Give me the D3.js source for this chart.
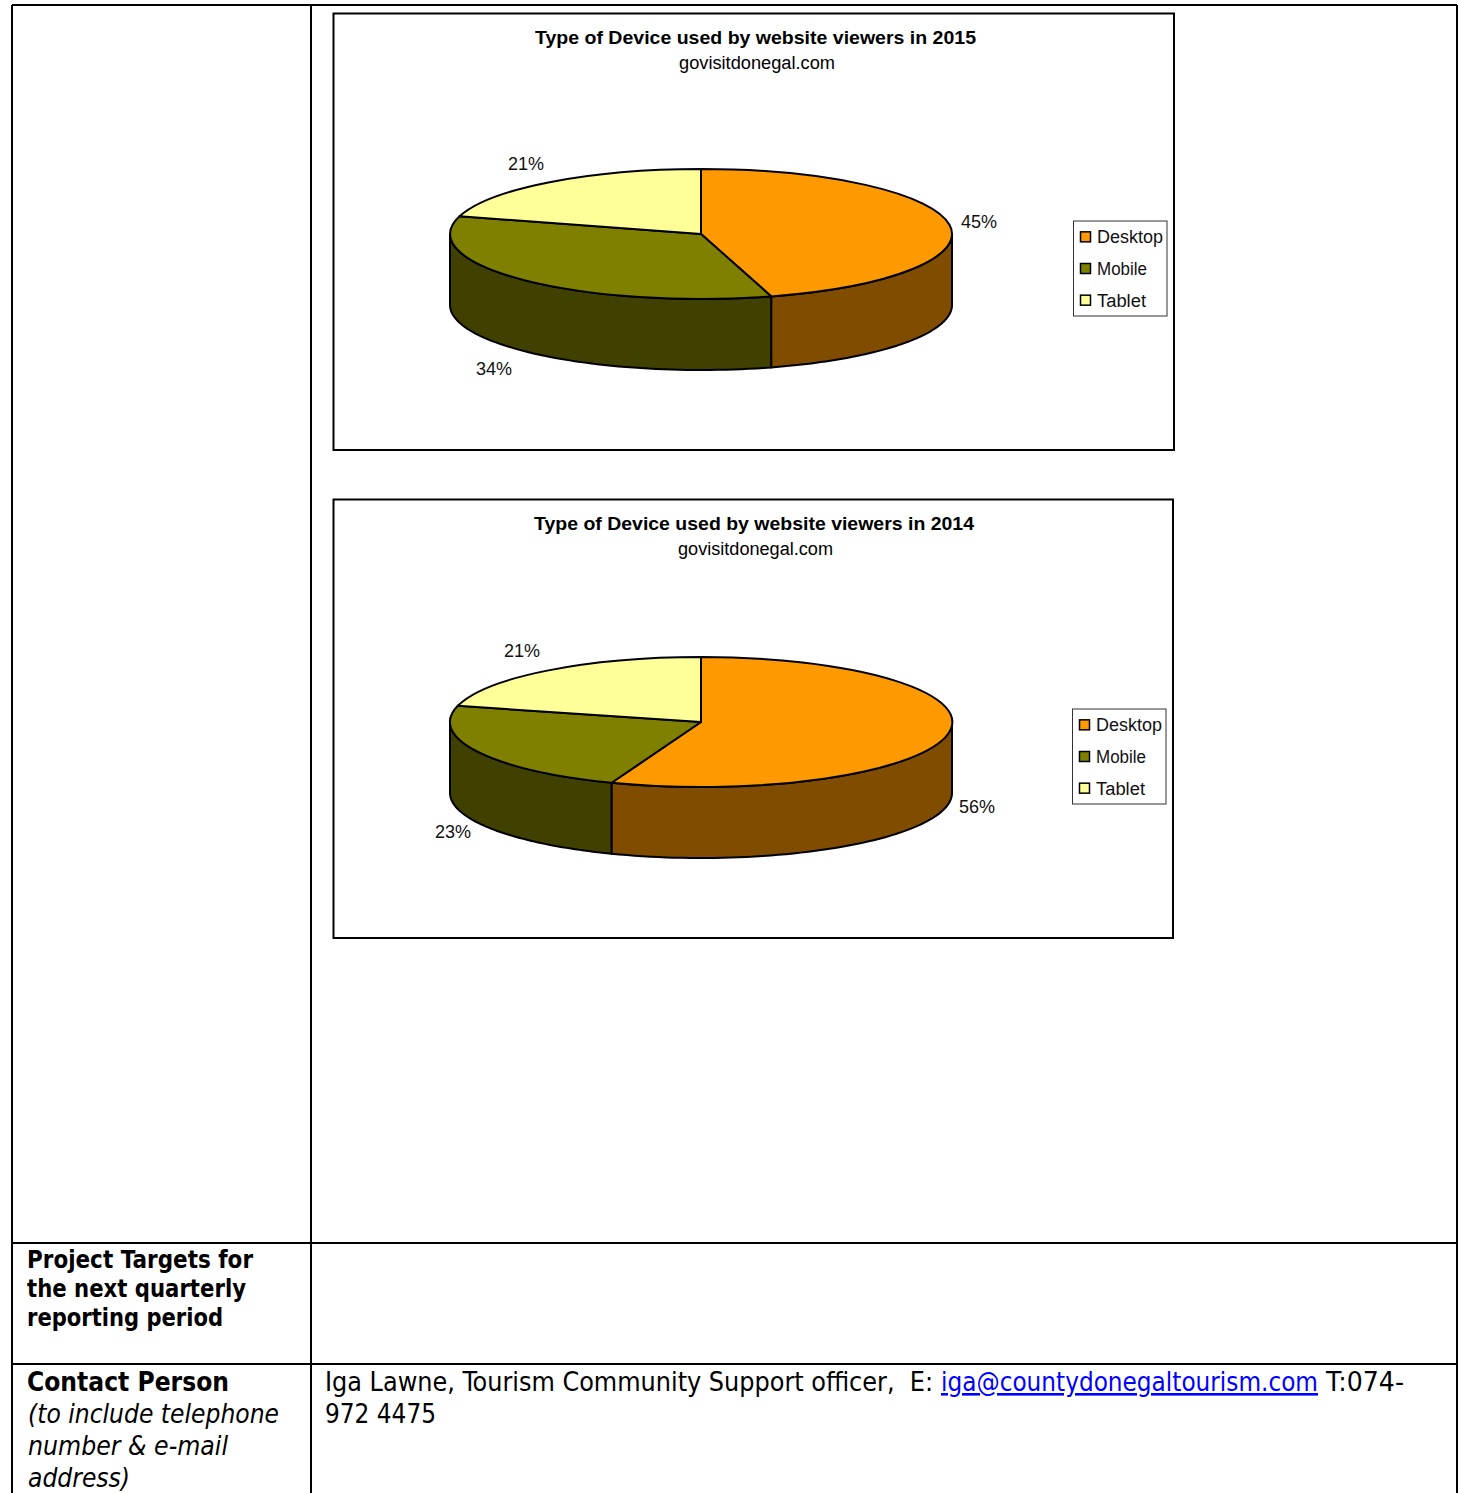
<!DOCTYPE html>
<html><head><meta charset="utf-8">
<script src="https://cdn.jsdelivr.net/npm/d3@7"></script>
<style>html,body{margin:0;padding:0;background:#fff;overflow:hidden}svg{display:block}</style>
</head><body><div id="c"></div>
<script>
const categories = ["Desktop","Mobile","Tablet"];
const values2015 = [45.49,33.9,20.61];
const values2014 = [55.8,23.2,21.0];
const titles = ["Type of Device used by website viewers in 2015","Type of Device used by website viewers in 2014"];
const subtitle = "govisitdonegal.com";
const topColors = ["#FF9900","#808000","#FFFF99"];
const sideColors = ["#804D00","#404000","#808050"];

const layouts = [
 {values:values2015,title:titles[0],frame:[333.5,13.5,840.5,436.5],cx:701,cy:234,
  titleX:[535,441],titleY:44,subX:[679,156],subY:69,
  labels:[[961,228],[476,375],[508,170]],legend:[1073.5,221,93.5,95]},
 {values:values2014,title:titles[1],frame:[333.5,499.5,839.5,438.5],cx:701,cy:722,
  titleX:[534,440],titleY:530,subX:[678,155],subY:555,
  labels:[[959,813],[435,838],[504,657]],legend:[1072.5,709,93.5,95]}
];
const legendTextWidths=[66,50,49];
const rx=251, ry=65, depth=71;
const W=1458,H=1493;
const svg=d3.select("#c").append("svg").attr("width",W).attr("height",H).attr("viewBox",`0 0 ${W} ${H}`);
const CF='"Liberation Sans",Arial,sans-serif', TF='"DejaVu Sans",sans-serif', TC='"DejaVu Sans Condensed","DejaVu Sans",sans-serif';

// table rules
const rules=[[12,5,1457,5],[12,1243,1457,1243],[12,1364,1457,1364],[12,5,12,1493],[311,5,311,1493],[1457,5,1457,1493]];
svg.append("g").selectAll("line").data(rules).join("line")
 .attr("x1",d=>d[0]).attr("y1",d=>d[1]).attr("x2",d=>d[2]).attr("y2",d=>d[3])
 .attr("stroke","#000").attr("stroke-width",2);

function fitted(g,str,x,w,y,size,font,opts={}){
 return g.append("text").attr("x",x).attr("y",y).attr("textLength",w).attr("lengthAdjust","spacingAndGlyphs")
  .attr("font-family",font).attr("font-size",size).attr("font-weight",opts.bold?"bold":"normal")
  .attr("font-style",opts.italic?"italic":"normal").attr("fill",opts.fill||"#000")
  .attr("text-decoration",opts.underline?"underline":null)
  .style("font-stretch",opts.condensed?"condensed":null)
  .style("white-space","pre").text(str);
}

layouts.forEach(L=>{
 const g=svg.append("g");
 g.append("rect").attr("x",L.frame[0]).attr("y",L.frame[1]).attr("width",L.frame[2]).attr("height",L.frame[3])
  .attr("fill","#fff").attr("stroke","#000").attr("stroke-width",2);
 fitted(g,L.title,L.titleX[0],L.titleX[1],L.titleY,18,CF,{bold:true});
 fitted(g,subtitle,L.subX[0],L.subX[1],L.subY,18,CF);

 const arcs=d3.pie().sort(null)(L.values);
 const X=d3.scaleLinear().domain([-1,1]).range([L.cx-rx,L.cx+rx]);
 const Y=d3.scaleLinear().domain([-1,1]).range([L.cy-ry,L.cy+ry]);
 const px=a=>X(Math.sin(a)), py=a=>Y(-Math.cos(a));
 const lo=Math.PI/2, hi=3*Math.PI/2;
 const line=d3.line();
 arcs.forEach((a,i)=>{
  const s=Math.max(a.startAngle,lo), e=Math.min(a.endAngle,hi);
  if(e<=s) return;
  const n=60, ang=d3.range(n+1).map(k=>s+(e-s)*k/n);
  const pts=ang.map(t=>[px(t),py(t)]).concat(ang.slice().reverse().map(t=>[px(t),py(t)+depth]));
  g.append("path").attr("d",line(pts)+"Z").attr("fill",sideColors[i]).attr("stroke","#000")
   .attr("stroke-width",2).attr("stroke-linejoin","round");
 });
 const arc=d3.arc().innerRadius(0).outerRadius(1);
 const top=g.append("g").attr("transform",`translate(${L.cx},${L.cy}) scale(${rx},${ry})`);
 top.selectAll("path").data(arcs).join("path").attr("d",arc).attr("fill",(d,i)=>topColors[i])
  .attr("stroke","#000").attr("stroke-width",2).attr("vector-effect","non-scaling-stroke").attr("stroke-linejoin","round");
 arcs.forEach((a,i)=>{
  g.append("text").attr("x",L.labels[i][0]).attr("y",L.labels[i][1]).attr("font-family",CF).attr("font-size",18)
   .attr("fill","#111").text(Math.round(a.value)+"%");
 });
 const [lx,ly,lw,lh]=L.legend;
 g.append("rect").attr("x",lx).attr("y",ly).attr("width",lw).attr("height",lh).attr("fill","#fff").attr("stroke","#333").attr("stroke-width",1);
 const band=d3.scaleBand().domain(categories).range([ly,ly+lh]);
 categories.forEach((c,i)=>{
  const m=band(c)+band.bandwidth()/2;
  g.append("rect").attr("x",lx+7).attr("y",m-5).attr("width",10).attr("height",10).attr("fill",topColors[i]).attr("stroke","#000").attr("stroke-width",1.5);
  fitted(g,c,lx+23.5,legendTextWidths[i],m+6.5,18,CF,{fill:"#111"});
 });
});

const t=svg.append("g");
const leftBold=[["Project Targets for",226,1268],["the next quarterly",219,1297],["reporting period",196,1326]];
leftBold.forEach(d=>fitted(t,d[0],27,d[1],d[2],25,TF,{bold:true}));
fitted(t,"Contact Person",27,202,1391,27,TF,{bold:true});
const leftItalic=[["(to include telephone",251,1423],["number & e-mail",200,1455],["address)",102,1487]];
leftItalic.forEach(d=>fitted(t,d[0],28,d[1],d[2],27,TF,{italic:true}));
const contactRuns=[
 {s:"Iga Lawne, Tourism Community Support officer,  E:",x:325,w:608},
 {s:"iga@countydonegaltourism.com",x:941,w:377,fill:"#0000FF",underline:true},
 {s:"T:074-",x:1326,w:78}];
contactRuns.forEach(r=>fitted(t,r.s,r.x,r.w,1391,26,TC,{fill:r.fill,underline:r.underline,condensed:true}));
fitted(t,"972 4475",325,111,1423,26,TC,{condensed:true});
</script></body></html>
